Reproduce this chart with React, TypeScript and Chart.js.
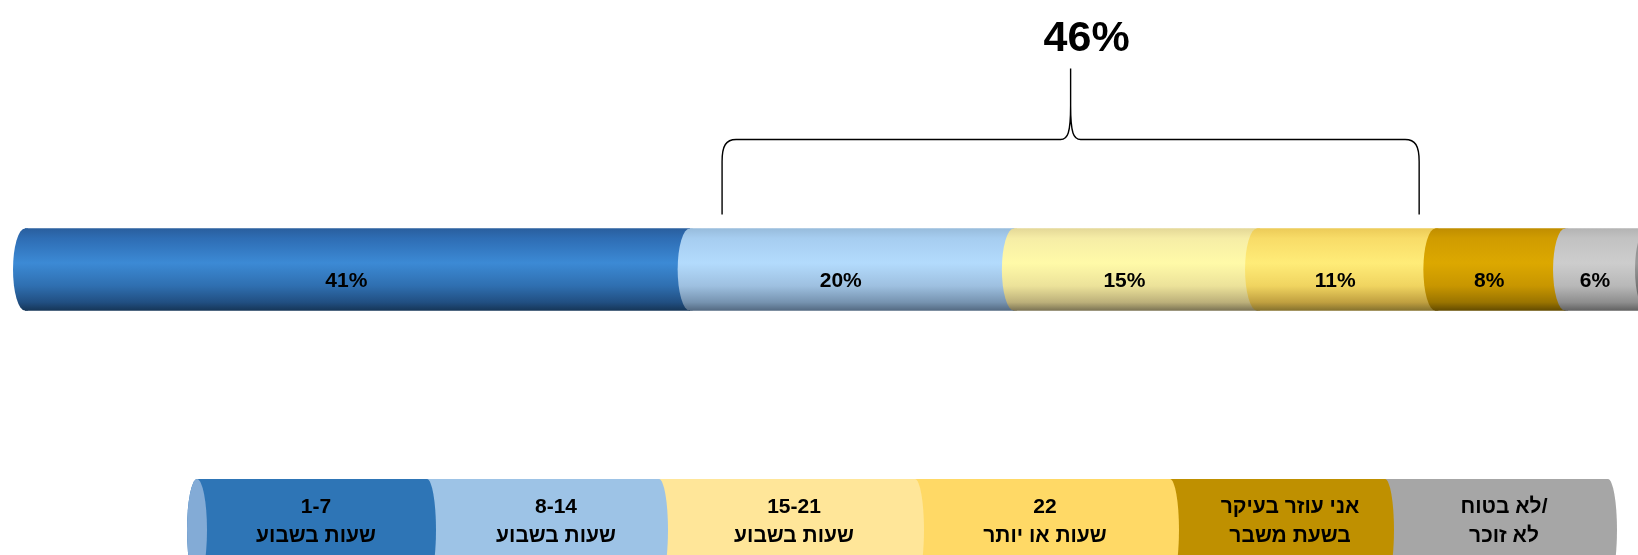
import React, { useEffect, useRef } from 'react';
import { Chart, registerables } from 'chart.js';

Chart.register(...registerables);

// ---------- data ----------
const categories = ['שעות עזרה'];
const seriesTop = ['1-7', '8-14', '15-21', '22', 'אני עוזר בעיקר', 'לא בטוח/'];
const seriesBottom = ['שעות בשבוע', 'שעות בשבוע', 'שעות בשבוע', 'שעות או יותר', 'בשעת משבר', 'לא זוכר'];
const values = [41, 20, 15, 11, 8, 6];
const bracketSeries = [1, 2, 3];
const bracketSpan = [43, 86];

// ---------- styles ----------
const barStops: [number, string][][] = [
  [[0, '#2a5f9e'], [0.12, '#2e6db4'], [0.42, '#3c8ad5'], [0.7, '#2f6fb0'], [0.9, '#214f82'], [1, '#163658']],
  [[0, '#98bcdc'], [0.12, '#a6cdf0'], [0.42, '#b3dbfd'], [0.7, '#9ec0e0'], [0.9, '#7693b0'], [1, '#546a82']],
  [[0, '#e4d898'], [0.12, '#f6eda6'], [0.42, '#fffaa8'], [0.7, '#ece29a'], [0.9, '#bcb07a'], [1, '#7c7454']],
  [[0, '#eccb58'], [0.12, '#f8dc68'], [0.42, '#ffec78'], [0.7, '#f0d460'], [0.9, '#c0a040'], [1, '#86722e']],
  [[0, '#c08e00'], [0.12, '#d09c00'], [0.42, '#dca800'], [0.7, '#c89600'], [0.9, '#9a7400'], [1, '#644c00']],
  [[0, '#b4b4b4'], [0.12, '#c2c2c2'], [0.42, '#cdcdcd'], [0.7, '#b8b8b8'], [0.9, '#8e8e8e'], [1, '#626262']],
];
const endFaceStops: [number, string][] = [[0, '#8c8c8c'], [0.42, '#9a9a9a'], [1, '#505050']];
const legendColors = ['#2e75b6', '#9dc3e6', '#ffe699', '#ffd966', '#bf9000', '#a6a6a6'];
const legendFace = '#83abd6';
const legendEdges = [197, 427, 659, 915, 1170, 1385, 1608];
const legendTextX = [316, 556, 794, 1045, 1290, 1504];

const BAR_T = 82;
const RX = 12;
const FONT = '"Liberation Sans", Arial, sans-serif';
const NARROW = '"Liberation Sans Narrow", "Arial Narrow", "Liberation Sans", Arial, sans-serif';

function makeGrad(chart: any, stops: [number, string][]) {
  const area = chart.chartArea;
  if (!area || !isFinite(area.top) || !isFinite(area.bottom)) return stops[2][1];
  const cy = (area.top + area.bottom) / 2;
  if (!isFinite(cy)) return stops[2][1];
  const g = chart.ctx.createLinearGradient(0, cy - BAR_T / 2, 0, cy + BAR_T / 2);
  stops.forEach(([o, c]) => g.addColorStop(o, c));
  return g;
}

const cylinderPlugin = {
  id: 'cylinder',
  afterDatasetsDraw(chart: any) {
    const ctx = chart.ctx;
    const area = chart.chartArea;
    const geo: any[] = [];
    values.forEach((_, i) => {
      const el = chart.getDatasetMeta(i).data[0];
      const p = el.getProps(['x', 'base', 'y', 'height'], true);
      geo.push(p);
    });
    // end face at right
    const last = geo[geo.length - 1];
    ctx.save();
    ctx.beginPath();
    ctx.ellipse(area.right + 9, last.y, RX, last.height / 2, 0, Math.PI / 2, Math.PI * 1.5);
    ctx.closePath();
    ctx.fillStyle = makeGrad(chart, endFaceStops);
    ctx.fill();
    ctx.restore();
    // left caps (overlap own segment slightly to hide seams)
    geo.forEach((p, i) => {
      const left = Math.min(p.x, p.base);
      const top = p.y - p.height / 2;
      const bottom = p.y + p.height / 2;
      ctx.save();
      ctx.beginPath();
      ctx.ellipse(left, p.y, RX, p.height / 2, 0, Math.PI / 2, Math.PI * 1.5);
      ctx.lineTo(left + 3, top);
      ctx.lineTo(left + 3, bottom);
      ctx.closePath();
      ctx.fillStyle = makeGrad(chart, barStops[i]);
      ctx.fill();
      ctx.restore();
    });
    // value labels
    ctx.save();
    ctx.font = `bold 21px ${NARROW}`;
    ctx.fillStyle = '#000';
    ctx.textAlign = 'center';
    ctx.textBaseline = 'middle';
    geo.forEach((p, i) => {
      const left = Math.min(p.x, p.base);
      const right = Math.min(Math.max(p.x, p.base), area.right + 9);
      const cx = (left + right) / 2 - RX + 1;
      ctx.fillText(`${values[i]}%`, cx, p.y + 12);
    });
    ctx.restore();
  },
  afterDraw(chart: any) {
    const ctx = chart.ctx;
    const xs = chart.scales.x;
    const area = chart.chartArea;
    const barTop = (area.top + area.bottom) / 2 - BAR_T / 2;
    // bracket
    const xL = xs.getPixelForValue(bracketSpan[0]);
    const xR = xs.getPixelForValue(bracketSpan[1]);
    const xm = (xL + xR) / 2;
    const yBot = barTop - 14;
    const yH = barTop - 89;
    const yTop = barTop - 160;
    ctx.save();
    ctx.strokeStyle = '#000';
    ctx.lineWidth = 1.4;
    ctx.beginPath();
    ctx.moveTo(xL, yBot);
    ctx.lineTo(xL, yH + 22);
    ctx.bezierCurveTo(xL, yH + 6, xL + 4, yH, xL + 14, yH);
    ctx.lineTo(xm - 10, yH);
    ctx.bezierCurveTo(xm - 3, yH, xm, yH - 6, xm, yH - 34);
    ctx.lineTo(xm, yTop);
    ctx.moveTo(xm, yH - 34);
    ctx.bezierCurveTo(xm, yH - 6, xm + 3, yH, xm + 10, yH);
    ctx.lineTo(xR - 14, yH);
    ctx.bezierCurveTo(xR - 4, yH, xR, yH + 6, xR, yH + 22);
    ctx.lineTo(xR, yBot);
    ctx.stroke();
    const total = bracketSeries.reduce((s, i) => s + values[i], 0);
    ctx.font = `bold 43px ${FONT}`;
    ctx.fillStyle = '#000';
    ctx.textAlign = 'center';
    ctx.textBaseline = 'middle';
    ctx.fillText(`${total}%`, xm + 16, barTop - 189);
    ctx.restore();

    // legend cylinders
    const top = 479;
    const bottom = 581;
    const cy = (top + bottom) / 2;
    const ry = (bottom - top) / 2;
    const lrx = 9;
    for (let i = legendColors.length - 1; i >= 0; i--) {
      const x0 = legendEdges[i];
      const x1 = legendEdges[i + 1];
      ctx.save();
      ctx.beginPath();
      ctx.moveTo(x0, top);
      ctx.lineTo(x1, top);
      ctx.ellipse(x1, cy, lrx, ry, 0, -Math.PI / 2, Math.PI / 2, false);
      ctx.lineTo(x0, bottom);
      ctx.ellipse(x0, cy, lrx + 1, ry, 0, Math.PI / 2, Math.PI * 1.5, false);
      ctx.closePath();
      ctx.fillStyle = legendColors[i];
      ctx.fill();
      ctx.restore();
    }
    ctx.save();
    ctx.beginPath();
    ctx.ellipse(legendEdges[0], cy, lrx + 1, ry, 0, 0, Math.PI * 2);
    ctx.fillStyle = legendFace;
    ctx.fill();
    ctx.restore();
    ctx.save();
    ctx.font = `bold 21px ${FONT}`;
    ctx.fillStyle = '#000';
    ctx.textAlign = 'center';
    ctx.textBaseline = 'middle';
    (ctx as any).direction = 'ltr';
    for (let i = 0; i < legendColors.length; i++) {
      const cx = legendTextX[i];
      ctx.fillText(seriesTop[i], cx, 507);
      ctx.fillText(seriesBottom[i], cx, 536);
    }
    ctx.restore();
  },
};

export default function App() {
  const ref = useRef<HTMLCanvasElement | null>(null);
  useEffect(() => {
    if (!ref.current) return;
    const chart = new Chart(ref.current, {
      type: 'bar',
      data: {
        labels: categories,
        datasets: values.map((v, i) => ({
          label: `${seriesTop[i]} ${seriesBottom[i]}`,
          data: [v],
          backgroundColor: (c: any) => makeGrad(c.chart, barStops[i]),
          borderWidth: 0,
          barThickness: BAR_T,
        })),
      },
      options: {
        indexAxis: 'y',
        responsive: false,
        animation: false,
        devicePixelRatio: 1,
        layout: { padding: { left: 25, right: 0, top: 190, bottom: 206 } },
        scales: {
          x: { stacked: true, display: false, min: 0, max: 99.5 },
          y: { stacked: true, display: false },
        },
        plugins: {
          legend: { display: false },
          tooltip: { enabled: false },
        },
      },
      plugins: [cylinderPlugin],
    } as any);
    return () => chart.destroy();
  }, []);
  return (
    <div style={{ position: 'absolute', left: 0, top: 0, width: 1638, height: 555, background: '#fff' }}>
      <canvas ref={ref} width={1638} height={555} style={{ display: 'block' }} />
    </div>
  );
}
